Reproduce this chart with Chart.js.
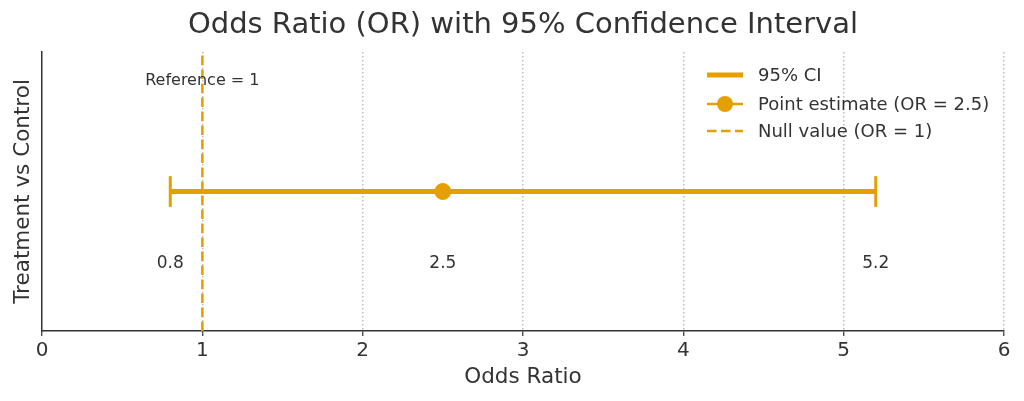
<!DOCTYPE html>
<html>
<head>
<meta charset="utf-8">
<script src="https://cdn.jsdelivr.net/npm/chart.js@4.4.1/dist/chart.umd.min.js"></script>
<style>
  html, body { margin: 0; padding: 0; background: #fff; }
  #wrap { width: 1024px; height: 401px; }
</style>
</head>
<body>
<div id="wrap"><canvas id="or-chart"></canvas></div>
<script>
// Odds ratio forest-style chart

const categories = ['Treatment vs Control'];
const oddsRatios = [2.5];
const ciLower = [0.8];
const ciUpper = [5.2];
const nullValues = [1];
const xTicks = [0, 1, 2, 3, 4, 5, 6];
const legendLabels = ['95% CI', 'Point estimate (OR = 2.5)', 'Null value (OR = 1)'];
const referenceLabel = 'Reference = 1';
const chartTitle = 'Odds Ratio (OR) with 95% Confidence Interval';

const ORANGE = '#E69F00';
const TEXT = '#333333';
const FONT = 'DejaVu Sans';
const DASH = [9.5, 4.5];

const row = 0;        // y position of the single comparison
const capHalf = 0.11; // half height of the CI caps (y units)

// Annotation plugin: title, value labels, reference text and legend
const annotations = {
    id: 'annotations',
    afterDraw(chart) {
        const { ctx, scales: { x, y }, chartArea } = chart;
        ctx.save();
        ctx.fillStyle = TEXT;
        ctx.textAlign = 'center';
        ctx.textBaseline = 'middle';

        // title centred over the plot area
        ctx.font = '29px "' + FONT + '"';
        ctx.fillText(chartTitle, (chartArea.left + chartArea.right) / 2, 25);

        ctx.font = '16px "' + FONT + '"';
        ctx.fillText(referenceLabel, x.getPixelForValue(nullValues[0]), y.getPixelForValue(0.8) + 1);

        ctx.font = '17px "' + FONT + '"';
        [ciLower[0], oddsRatios[0], ciUpper[0]].forEach(v => {
            ctx.fillText(String(v), x.getPixelForValue(v), y.getPixelForValue(-0.5) + 2);
        });

        // legend
        const lx = 707, lw = 36, tx = 758;
        const ly = [75, 104, 131];
        ctx.textAlign = 'left';
        ctx.font = '18px "' + FONT + '"';
        ctx.strokeStyle = ORANGE;
        ctx.fillStyle = ORANGE;

        ctx.lineWidth = 5;
        ctx.beginPath(); ctx.moveTo(lx, ly[0]); ctx.lineTo(lx + lw, ly[0]); ctx.stroke();

        ctx.lineWidth = 2.5;
        ctx.beginPath(); ctx.moveTo(lx, ly[1]); ctx.lineTo(lx + lw, ly[1]); ctx.stroke();
        ctx.beginPath(); ctx.arc(lx + lw / 2, ly[1], 8, 0, Math.PI * 2); ctx.fill();

        ctx.setLineDash(DASH);
        ctx.beginPath(); ctx.moveTo(lx, ly[2]); ctx.lineTo(lx + lw, ly[2]); ctx.stroke();
        ctx.setLineDash([]);

        ctx.fillStyle = TEXT;
        legendLabels.forEach((t, i) => ctx.fillText(t, tx, ly[i] + 1));
        ctx.restore();
    }
};

new Chart(document.getElementById('or-chart'), {
    type: 'scatter',
    data: {
        datasets: [
            {
                label: 'Null value',
                data: [{ x: nullValues[0], y: -1 }, { x: nullValues[0], y: 1 }],
                showLine: true,
                borderColor: ORANGE,
                borderWidth: 2.5,
                borderDash: DASH,
                pointRadius: 0
            },
            {
                label: legendLabels[0],
                data: [{ x: ciLower[0], y: row }, { x: ciUpper[0], y: row }],
                showLine: true,
                borderColor: ORANGE,
                borderWidth: 5,
                pointRadius: 0
            },
            {
                label: 'Lower cap',
                data: [{ x: ciLower[0], y: row - capHalf }, { x: ciLower[0], y: row + capHalf }],
                showLine: true,
                borderColor: ORANGE,
                borderWidth: 3,
                pointRadius: 0
            },
            {
                label: 'Upper cap',
                data: [{ x: ciUpper[0], y: row - capHalf }, { x: ciUpper[0], y: row + capHalf }],
                showLine: true,
                borderColor: ORANGE,
                borderWidth: 3,
                pointRadius: 0
            },
            {
                label: legendLabels[1],
                data: [{ x: oddsRatios[0], y: row }],
                backgroundColor: ORANGE,
                borderColor: ORANGE,
                pointRadius: 8,
                pointHoverRadius: 8
            }
        ]
    },
    options: {
        responsive: true,
        maintainAspectRatio: false,
        animation: false,
        layout: { padding: { top: 52, right: 20, bottom: 0, left: 0 } },
        plugins: {
            legend: { display: false },
            tooltip: { enabled: false },
            title: { display: false }
        },
        scales: {
            x: {
                type: 'linear',
                min: xTicks[0],
                max: xTicks[xTicks.length - 1],
                afterBuildTicks(scale) {
                    scale.ticks = xTicks.map(v => ({ value: v }));
                },
                afterFit(scale) { scale.height = 70; },
                ticks: {
                    color: TEXT,
                    font: { family: FONT, size: 20 },
                    padding: 3
                },
                grid: {
                    color: ctx => (ctx.tick && ctx.tick.value === 0) ? 'rgba(0,0,0,0)' : '#bdbdbd',
                    lineWidth: 1.5,
                    tickColor: TEXT,
                    tickLength: 5,
                    tickWidth: 1.2,
                    tickBorderDash: []
                },
                border: { display: true, color: TEXT, width: 1.5, dash: [1.5, 2.5] },
                title: {
                    display: true,
                    text: 'Odds Ratio',
                    color: TEXT,
                    font: { family: FONT, size: 21.5 },
                    padding: { top: 0, bottom: 11 }
                }
            },
            y: {
                type: 'linear',
                min: -1,
                max: 1,
                afterFit(scale) { scale.width = 42; },
                ticks: { display: false },
                grid: { display: false, drawTicks: false },
                border: { display: true, color: TEXT, width: 1.5 },
                title: {
                    display: true,
                    text: categories[0],
                    color: TEXT,
                    font: { family: FONT, size: 21.5 },
                    padding: { top: 11, bottom: 0 }
                }
            }
        }
    },
    plugins: [annotations]
});
</script>
</body>
</html>
